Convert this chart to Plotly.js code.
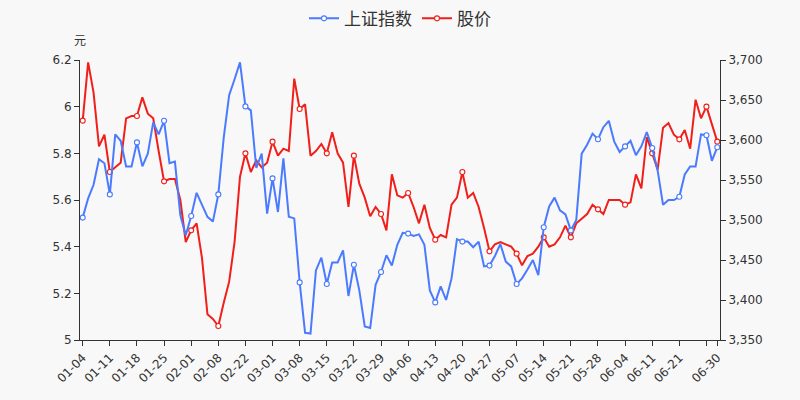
<!DOCTYPE html>
<html>
<head>
<meta charset="utf-8">
<script src="https://cdn.plot.ly/plotly-3.0.1.min.js"></script>
<style>html,body{margin:0;padding:0;background:#f8f8f8;}#chart{width:800px;height:400px;}</style>
</head>
<body>
<div id="chart"></div>
<script>
// Trading days, 2021 H1
const dates = [
 "01-04","01-05","01-06","01-07","01-08","01-11","01-12","01-13","01-14","01-15",
 "01-18","01-19","01-20","01-21","01-22","01-25","01-26","01-27","01-28","01-29",
 "02-01","02-02","02-03","02-04","02-05","02-08","02-09","02-10","02-18","02-19",
 "02-22","02-23","02-24","02-25","02-26","03-01","03-02","03-03","03-04","03-05",
 "03-08","03-09","03-10","03-11","03-12","03-15","03-16","03-17","03-18","03-19",
 "03-22","03-23","03-24","03-25","03-26","03-29","03-30","03-31","04-01","04-02",
 "04-06","04-07","04-08","04-09","04-12","04-13","04-14","04-15","04-16","04-19",
 "04-20","04-21","04-22","04-23","04-26","04-27","04-28","04-29","04-30","05-06",
 "05-07","05-10","05-11","05-12","05-13","05-14","05-17","05-18","05-19","05-20",
 "05-21","05-24","05-25","05-26","05-27","05-28","05-31","06-01","06-02","06-03",
 "06-04","06-07","06-08","06-09","06-10","06-11","06-15","06-16","06-17","06-18",
 "06-21","06-22","06-23","06-24","06-25","06-28","06-29","06-30"
];

// 上证指数 (right axis)
const indexValues = [
 3503,3527,3544,3576,3571,3532,3607,3599,3567,3567,
 3597,3567,3583,3622,3607,3624,3571,3573,3506,3481,
 3505,3534,3519,3504,3498,3532,3603,3656,3676,3697,
 3642,3637,3565,3583,3508,3552,3510,3577,3504,3502,
 3422,3359,3358,3437,3453,3420,3447,3447,3462,3405,
 3444,3412,3367,3365,3419,3435,3456,3443,3469,3484,
 3483,3480,3482,3469,3412,3397,3417,3400,3427,3476,
 3473,3473,3466,3473,3442,3443,3455,3470,3448,3442,
 3420,3427,3438,3450,3431,3491,3517,3528,3512,3507,
 3487,3500,3583,3594,3608,3601,3616,3624,3598,3585,
 3592,3599,3581,3592,3610,3590,3562,3519,3525,3525,
 3529,3557,3567,3567,3607,3606,3574,3591
];

// 股价 (left axis, 元)
const priceValues = [
 5.94,6.19,6.06,5.83,5.88,5.72,5.74,5.76,5.95,5.96,
 5.96,6.04,5.97,5.95,5.81,5.68,5.69,5.69,5.60,5.42,
 5.47,5.50,5.35,5.11,5.09,5.06,5.16,5.25,5.42,5.70,
 5.80,5.72,5.77,5.74,5.76,5.85,5.79,5.82,5.81,6.12,
 5.99,6.01,5.79,5.81,5.84,5.80,5.89,5.80,5.76,5.57,
 5.79,5.67,5.61,5.53,5.57,5.54,5.47,5.71,5.62,5.61,
 5.63,5.57,5.50,5.58,5.48,5.43,5.45,5.44,5.58,5.61,
 5.72,5.61,5.63,5.57,5.48,5.38,5.41,5.42,5.41,5.40,
 5.37,5.32,5.36,5.37,5.40,5.44,5.40,5.41,5.44,5.49,
 5.44,5.50,5.52,5.54,5.58,5.56,5.54,5.60,5.60,5.60,
 5.58,5.59,5.71,5.65,5.87,5.80,5.73,5.91,5.93,5.88,
 5.86,5.90,5.82,6.03,5.95,6.00,5.92,5.85
];

const tickDates = ["01-04","01-11","01-18","01-25","02-01","02-08","02-22","03-01","03-08","03-15",
 "03-22","03-29","04-06","04-13","04-20","04-27","05-07","05-14","05-21","05-28","06-04","06-11","06-21","06-28","06-30"];
const tickLabels = ["01-04","01-11","01-18","01-25","02-01","02-08","02-22","03-01","03-08","03-15",
 "03-22","03-29","04-06","04-13","04-20","04-27","05-07","05-14","05-21","05-28","06-04","06-11","06-21","","06-30"];

const N = dates.length;
const shown = dates.map((d,i)=> (i%5===0 || i===N-1));
const CLEAR = 'rgba(0,0,0,0)';

const BLUE = '#4a7bff', RED = '#f01f1a';
const FONT = 'DejaVu Sans, Noto Sans CJK SC, sans-serif';

function lineTrace(name, yv, axis, color) {
 return {x: dates, y: yv, name: name, type: 'scatter', mode: 'lines+markers', yaxis: axis,
  line: {color: color, width: 2},
  marker: {symbol: 'circle', size: 5,
    color: shown.map(s => s ? '#ffffff' : CLEAR),
    line: {color: shown.map(s => s ? color : CLEAR), width: 1.1}}};
}

const traces = [
 lineTrace('上证指数', indexValues, 'y2', BLUE),
 lineTrace('股价', priceValues, 'y', RED)
];

const layout = {
 width: 800, height: 400,
 margin: {l: 80, r: 80, t: 60, b: 60, autoexpand: false},
 paper_bgcolor: '#f8f8f8', plot_bgcolor: '#f8f8f8',
 font: {family: FONT, size: 12, color: '#333'},
 showlegend: true,
 legend: {orientation: 'h', x: 0.5, xanchor: 'center', yref: 'container', y: 0.998, yanchor: 'top',
   font: {size: 17, color: '#333'}, bgcolor: 'rgba(0,0,0,0)'},
 xaxis: {type: 'category', range: [-0.5, N - 0.5], tickmode: 'array', tickvals: tickDates, ticktext: tickLabels,
   tickangle: -45, ticks: 'outside', ticklen: 5, tickcolor: '#333', showline: true, linecolor: '#333', linewidth: 1,
   showgrid: false, zeroline: false, tickfont: {size: 12, color: '#333'}},
 yaxis: {range: [5, 6.2], tickvals: [5, 5.2, 5.4, 5.6, 5.8, 6, 6.2], ticktext: ['5','5.2','5.4','5.6','5.8','6','6.2'],
   ticks: 'outside', ticklen: 5, tickcolor: '#333', showline: true, linecolor: '#333', linewidth: 1,
   showgrid: false, zeroline: false, tickfont: {size: 12, color: '#333'}},
 yaxis2: {range: [3350, 3700], dtick: 50, tickformat: ',', overlaying: 'y', side: 'right',
   ticks: 'outside', ticklen: 5, tickcolor: '#333', showline: true, linecolor: '#333', linewidth: 1,
   showgrid: false, zeroline: false, tickfont: {size: 12, color: '#333'}},
 annotations: [{text: '元', xref: 'paper', yref: 'paper', x: 0, y: 1.075, xanchor: 'center', yanchor: 'middle',
   showarrow: false, font: {size: 12, color: '#333', family: 'Noto Sans CJK SC, sans-serif'}}]
};

Plotly.newPlot('chart', traces, layout, {displayModeBar: false, responsive: false});
</script>
</body>
</html>
